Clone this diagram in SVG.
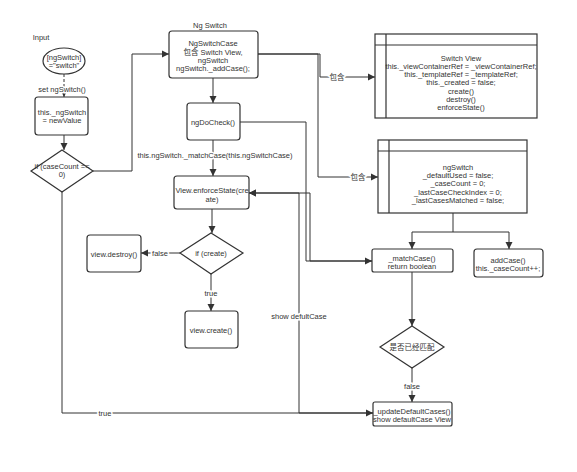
<svg xmlns="http://www.w3.org/2000/svg" width="577" height="472" viewBox="0 0 577 472">
<defs>
<marker id="arr" markerWidth="8" markerHeight="8" refX="7" refY="4" orient="auto" markerUnits="userSpaceOnUse"><path d="M0,0.5 L7,4 L0,7.5 Z" fill="#333"/></marker>
<style>
text{font-family:"Liberation Sans","Noto Sans CJK SC",Arial,sans-serif;font-size:7.5px;fill:#333;text-anchor:middle}
.box{fill:#fff;stroke:#333;stroke-width:1.2}
.ln{fill:none;stroke:#333;stroke-width:1;marker-end:url(#arr)}
.lbl{stroke:#fff;stroke-width:3;paint-order:stroke}
</style>
</defs>
<rect width="577" height="472" fill="#fff"/>
<g id="connectors">
<path class="ln" d="M64,74 V97" stroke-dasharray="3,2"/>
<path class="ln" d="M64,135 V150"/>
<path class="ln" d="M93,171 H132 V54 H169"/>
<path class="ln" d="M62,192 V413 H373"/>
<path class="ln" d="M213,78 V103"/>
<path class="ln" d="M213,140 V176"/>
<path class="ln" d="M212,209 V233"/>
<path class="ln" d="M180,253 H141"/>
<path class="ln" d="M211,274 V311"/>
<path class="ln" d="M258,54 H320 V77 H375"/>
<path class="ln" d="M258,54 H318 V177 H378"/>
<path class="ln" d="M240,122 H306 V261 H372"/>
<path class="ln" d="M372,261 H310 V193 H249"/>
<path class="ln" d="M373,413 H299 V193 H249"/>
<path class="ln" d="M453,213 V232 H412 V249"/>
<path class="ln" d="M453,232 H509 V249"/>
<path class="ln" d="M412,272 V326"/>
<path class="ln" d="M412,368 V402"/>
<text class="lbl" x="62" y="92">set ngSwitch()</text>
<text class="lbl" x="105" y="416">true</text>
<text class="lbl" x="215" y="158">this.ngSwitch._matchCase(this.ngSwitchCase)</text>
<text class="lbl" x="160" y="256">false</text>
<text class="lbl" x="211" y="296">true</text>
<text class="lbl" x="337" y="80">包含</text>
<text class="lbl" x="358" y="180">包含</text>
<text class="lbl" x="299" y="319">show defultCase</text>
<text class="lbl" x="412" y="389">false</text>
</g>
<g id="input">
<text x="41" y="40">Input</text>
<ellipse class="box" cx="64" cy="61" rx="21" ry="13"/>
<text x="64" y="60">[ngSwitch]</text>
<text x="64" y="68">="switch"</text>
</g>
<g id="setValue">
<rect class="box" x="35" y="97" width="53" height="38" rx="3"/>
<text x="62" y="115">this._ngSwitch</text>
<text x="62" y="123">= newValue</text>
</g>
<g id="ifCaseCount">
<polygon class="box" points="62,150 93,171 62,192 31,171"/>
<text x="62" y="169">if (caseCount ==</text>
<text x="62" y="177">0)</text>
</g>
<g id="ngSwitchCase">
<text x="210" y="28">Ng Switch</text>
<rect class="box" x="169" y="31" width="89" height="47" rx="3"/>
<text x="213" y="46">NgSwitchCase</text>
<text x="213" y="55">包含 Switch View,</text>
<text x="213" y="63">ngSwitch</text>
<text x="213" y="71">ngSwitch._addCase();</text>
</g>
<g id="ngDoCheck">
<rect class="box" x="187" y="103" width="53" height="37" rx="3"/>
<text x="213" y="125">ngDoCheck()</text>
</g>
<g id="enforceState">
<rect class="box" x="174" y="176" width="75" height="33" rx="3"/>
<text x="212" y="193">View.enforceState(cre</text>
<text x="212" y="202">ate)</text>
</g>
<g id="ifCreate">
<polygon class="box" points="211,233 243,253 211,274 180,253"/>
<text x="211" y="256">if (create)</text>
</g>
<g id="viewDestroy">
<rect class="box" x="87" y="235" width="54" height="37" rx="3"/>
<text x="114" y="257">view.destroy()</text>
</g>
<g id="viewCreate">
<rect class="box" x="185" y="311" width="53" height="37" rx="3"/>
<text x="211" y="333">view.create()</text>
</g>
<g id="switchView">
<rect class="box" x="375" y="34" width="162" height="84"/>
<path d="M375,45 H537 M386,34 V118" stroke="#333" stroke-width="1.2" fill="none"/>
<text x="461" y="61">Switch View</text>
<text x="461" y="69">this._viewContainerRef = _viewContainerRef;</text>
<text x="461" y="77">this._templateRef = _templateRef;</text>
<text x="461" y="85">this._created = false;</text>
<text x="461" y="94">create()</text>
<text x="461" y="102">destroy()</text>
<text x="461" y="110">enforceState()</text>
</g>
<g id="ngSwitch">
<rect class="box" x="378" y="140" width="149" height="73"/>
<path d="M378,151 H527 M389,140 V213" stroke="#333" stroke-width="1.2" fill="none"/>
<text x="458" y="170">ngSwitch</text>
<text x="458" y="178">_defaultUsed = false;</text>
<text x="458" y="186">_caseCount = 0;</text>
<text x="458" y="195">_lastCaseCheckIndex = 0;</text>
<text x="458" y="203">_lastCasesMatched = false;</text>
</g>
<g id="matchCase">
<rect class="box" x="372" y="249" width="81" height="23" rx="2"/>
<text x="412" y="261">_matchCase()</text>
<text x="412" y="269">return boolean</text>
</g>
<g id="addCase">
<rect class="box" x="474" y="249" width="69" height="28" rx="3"/>
<text x="508" y="263">addCase()</text>
<text x="508" y="271">this._caseCount++;</text>
</g>
<g id="matched">
<polygon class="box" points="412,326 444,347 412,368 380,347"/>
<text x="412" y="350">是否已经匹配</text>
</g>
<g id="updateDefaultCases">
<rect class="box" x="373" y="402" width="79" height="24" rx="2"/>
<text x="412" y="414">_updateDefaultCases()</text>
<text x="412" y="422">show defaultCase View</text>
</g>
</svg>
